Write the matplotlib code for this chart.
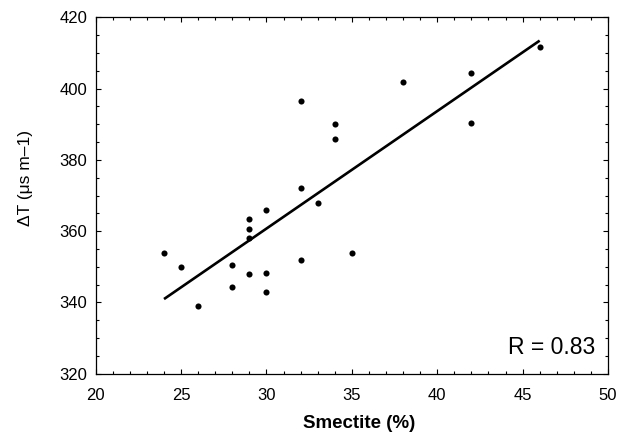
import numpy as np
import matplotlib
matplotlib.use("Agg")
import matplotlib.pyplot as plt
from matplotlib.ticker import MultipleLocator

plt.rcParams['font.family'] = ['Liberation Sans', 'DejaVu Sans']

# Smectite content (%) and interval transit time (µs/m)
smectite = [24, 25, 26, 28, 28, 29, 29, 29, 29, 30, 30, 30, 32, 32, 32,
            33, 34, 34, 35, 38, 42, 42, 46]
delta_t = [354.0, 350.0, 339.0, 350.6, 344.4, 363.3, 360.6, 358.0, 348.0,
           348.3, 342.8, 366.0, 396.6, 372.0, 351.8, 368.0, 390.0, 385.9,
           353.8, 401.8, 404.4, 390.4, 411.8]
r_value = 0.83

x = np.array(smectite, dtype=float)
y = np.array(delta_t, dtype=float)
slope, intercept = np.polyfit(x, y, 1)
xf = np.array([x.min(), x.max()])

fig = plt.figure(figsize=(6.26, 4.36), dpi=100)
ax = fig.add_axes([0.1529, 0.1429, 0.8183, 0.8174])

ax.plot(xf, slope * xf + intercept, color='black', lw=1.9, solid_capstyle='butt')
ax.plot(x, y, 'o', color='black', ms=4.4, mec='none')

ax.set_xlim(20, 50)
ax.set_ylim(320, 420)
ax.xaxis.set_major_locator(MultipleLocator(5))
ax.xaxis.set_minor_locator(MultipleLocator(1))
ax.yaxis.set_major_locator(MultipleLocator(20))
ax.yaxis.set_minor_locator(MultipleLocator(5))
ax.tick_params(which='both', direction='in', top=True, right=True,
               width=0.8, labelsize=12, colors='black')
ax.tick_params(which='major', length=3.5)
ax.tick_params(which='minor', length=2)
ax.tick_params(axis='x', which='major', pad=10.5)
ax.tick_params(axis='y', which='major', pad=6)
for s in ax.spines.values():
    s.set_linewidth(0.9)

ax.set_xlabel('Smectite (%)', fontsize=13.5, fontweight='bold')
ax.xaxis.set_label_coords(0.514, -0.117)
ax.set_ylabel('ΔT (μs m–1)', fontsize=12.5)
ax.yaxis.set_label_coords(-0.122, 0.549)

ax.text(0.9746, 0.042, f'R = {r_value:.2f}', transform=ax.transAxes,
        ha='right', va='bottom', fontsize=16.5)

fig.savefig('out.png', dpi=100)
